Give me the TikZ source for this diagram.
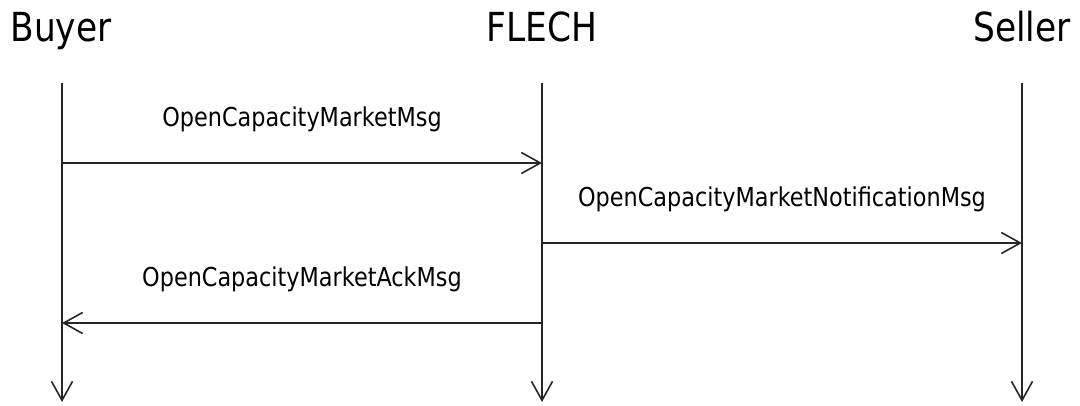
\documentclass[tikz,border=0pt]{standalone}
\usepackage{fontspec}
\setmainfont{DejaVu Sans}[FakeStretch=0.86]
\usetikzlibrary{arrows.meta}
\begin{document}
\begin{tikzpicture}[x=1pt,y=-1pt,
  party/.style={anchor=base,inner sep=0pt,font=\fontsize{40}{44}\selectfont},
  msglabel/.style={anchor=base,inner sep=0pt,font=\fontsize{26}{30}\selectfont},
  lifeline/.style={draw=black!85,line width=1.6pt,-{Straight Barb[length=19pt,width=21pt,line width=1.6pt]}},
  msg/.style={draw=black!85,line width=1.6pt,-{Straight Barb[length=19pt,width=21pt,line width=1.6pt]}}]
  \useasboundingbox (0,0) rectangle (1080,406);

  % participants
  \node[party] (buyer)  at (61,42)   {Buyer};
  \node[party] (flech)  at (542,42)  {FLECH};
  \node[party] (seller) at (1022,42) {Seller};

  % lifeline ends
  \coordinate (bTop) at (62,83);   \coordinate (bBot) at (62,402);
  \coordinate (fTop) at (542,83);  \coordinate (fBot) at (542,402);
  \coordinate (sTop) at (1022,83); \coordinate (sBot) at (1022,402);

  \draw[lifeline] (bTop) -- (bBot);
  \draw[lifeline] (fTop) -- (fBot);
  \draw[lifeline] (sTop) -- (sBot);

  % message anchor points on the lifelines
  \coordinate (b1) at (62,163);  \coordinate (f1) at (542,163);
  \coordinate (f2) at (542,243); \coordinate (s2) at (1022,243);
  \coordinate (f3) at (542,323); \coordinate (b3) at (62,323);

  \draw[msg] (b1) -- (f1);
  \draw[msg] (f2) -- (s2);
  \draw[msg] (f3) -- (b3);

  % message labels
  \node[msglabel] (m1) at (302,127) {OpenCapacityMarketMsg};
  \node[msglabel] (m2) at (782,207) {OpenCapacityMarketNotificationMsg};
  \node[msglabel] (m3) at (302,287) {OpenCapacityMarketAckMsg};
\end{tikzpicture}
\end{document}
